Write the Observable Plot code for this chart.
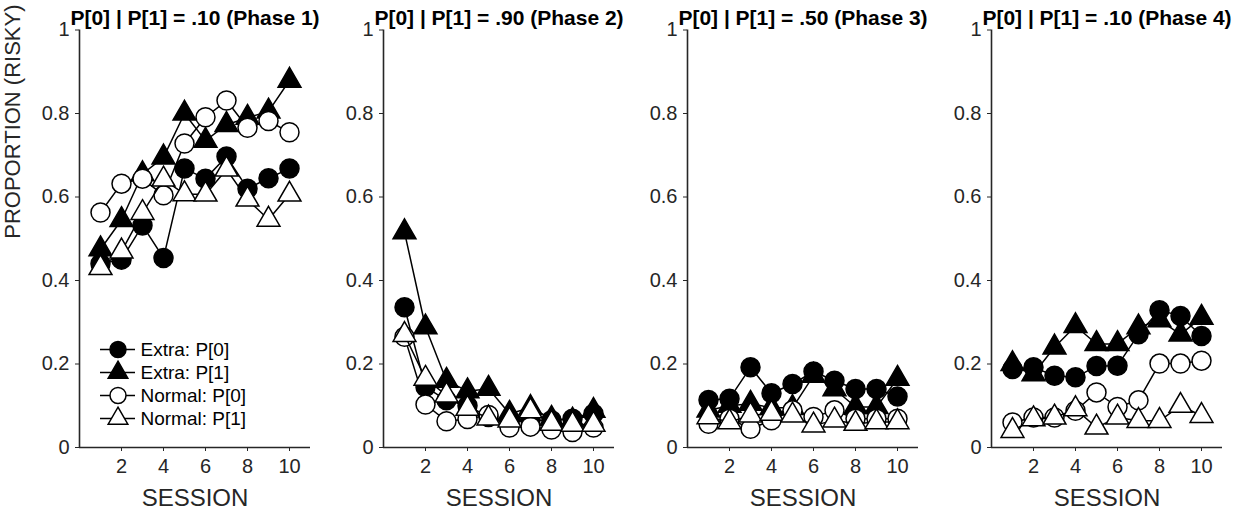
<!DOCTYPE html>
<html>
<head>
<meta charset="utf-8">
<script src="https://cdn.jsdelivr.net/npm/d3@7"></script>
<script src="https://cdn.jsdelivr.net/npm/@observablehq/plot@0.6"></script>
<style>
  body { margin: 0; background: #fff; }
  #chart { position: relative; width: 1249px; height: 511px; font-family: "Liberation Sans", Arial, sans-serif; }
  #chart svg { position: absolute; top: 0; }
</style>
</head>
<body>
<div id="chart"></div>
<script>
// Sessions and panel titles
const sessions = [1, 2, 3, 4, 5, 6, 7, 8, 9, 10];
const phaseTitles = [
  "P[0] | P[1] = .10 (Phase 1)",
  "P[0] | P[1] = .90 (Phase 2)",
  "P[0] | P[1] = .50 (Phase 3)",
  "P[0] | P[1] = .10 (Phase 4)"
];
const seriesNames = ["Extra: P[0]", "Extra: P[1]", "Normal: P[0]", "Normal: P[1]"];

// Proportion of risky choices, one row per phase
const extraP0 = [
  [0.440, 0.450, 0.532, 0.454, 0.668, 0.644, 0.697, 0.620, 0.645, 0.668],
  [0.336, 0.145, 0.113, 0.100, 0.073, 0.060, 0.065, 0.065, 0.069, 0.081],
  [0.114, 0.117, 0.192, 0.130, 0.152, 0.182, 0.160, 0.140, 0.140, 0.122],
  [0.188, 0.192, 0.172, 0.168, 0.195, 0.196, 0.271, 0.329, 0.315, 0.267]
];
const extraP1 = [
  [0.475, 0.545, 0.655, 0.695, 0.800, 0.735, 0.773, 0.790, 0.805, 0.879],
  [0.516, 0.288, 0.160, 0.135, 0.141, 0.081, 0.095, 0.069, 0.065, 0.088],
  [0.089, 0.100, 0.105, 0.095, 0.095, 0.172, 0.140, 0.097, 0.097, 0.165],
  [0.200, 0.176, 0.240, 0.291, 0.248, 0.248, 0.288, 0.305, 0.271, 0.311]
];
const normalP0 = [
  [0.563, 0.632, 0.644, 0.604, 0.728, 0.791, 0.831, 0.766, 0.782, 0.755],
  [0.265, 0.103, 0.063, 0.068, 0.078, 0.048, 0.050, 0.043, 0.037, 0.048],
  [0.057, 0.069, 0.045, 0.065, 0.089, 0.073, 0.089, 0.069, 0.069, 0.069],
  [0.060, 0.072, 0.072, 0.088, 0.132, 0.097, 0.113, 0.201, 0.201, 0.208]
];
const normalP1 = [
  [0.430, 0.470, 0.562, 0.642, 0.607, 0.606, 0.666, 0.594, 0.546, 0.606],
  [0.270, 0.165, 0.125, 0.093, 0.070, 0.065, 0.087, 0.057, 0.055, 0.055],
  [0.073, 0.061, 0.077, 0.081, 0.077, 0.053, 0.065, 0.057, 0.061, 0.061],
  [0.040, 0.068, 0.072, 0.092, 0.048, 0.072, 0.064, 0.064, 0.100, 0.076]
];

const yTicks = [0, 0.2, 0.4, 0.6, 0.8, 1];
const xTicks = [2, 4, 6, 8, 10];
const yLabel = "PROPORTION (RISKY)";
const xLabel = "SESSION";

// Marker style per series (drawn in this order)
const seriesValues = [extraP0, extraP1, normalP0, normalP1];
const seriesStyle = [
  { symbol: "circle", fill: "black", r: 9.5 },
  { symbol: "triangle", fill: "black", r: 8.5 },
  { symbol: "circle", fill: "white", r: 9.5 },
  { symbol: "triangle", fill: "white", r: 8.5 }
];

const FONT = "'Liberation Sans', Arial, sans-serif";
const AXIS = "#262626";
const chart = document.getElementById("chart");
const frameW = 231;

phaseTitles.forEach((title, p) => {
  const frameLeft = 79 + p * 304;
  const svgLeft = p === 0 ? 0 : frameLeft - 62;
  const mL = frameLeft - svgLeft;
  const mR = 14;

  const marks = [
    Plot.ruleX([0], { stroke: AXIS, strokeWidth: 1.6 }),
    Plot.ruleY([0], { stroke: AXIS, strokeWidth: 1.6 }),
    Plot.axisY({
      ticks: yTicks,
      tickFormat: d => (d === 0 || d === 1 ? String(d) : d.toFixed(1)),
      tickSize: 4, tickPadding: 6, fontSize: 20,
      stroke: AXIS, fill: AXIS, label: null
    }),
    Plot.axisX({
      ticks: xTicks, tickSize: 4, tickPadding: 7, fontSize: 20,
      stroke: AXIS, fill: AXIS, label: null
    })
  ];

  seriesValues.forEach((vals, k) => {
    const rows = sessions.map((s, j) => ({ session: s, value: vals[p][j] }));
    const st = seriesStyle[k];
    marks.push(
      Plot.line(rows, { x: "session", y: "value", stroke: "black", strokeWidth: 1.5 }),
      Plot.dot(rows, {
        x: "session", y: "value", symbol: st.symbol, r: st.r,
        fill: st.fill, stroke: "black", strokeWidth: 1.5
      })
    );
  });

  marks.push(
    Plot.text([title], {
      text: d => d, frameAnchor: "top", lineAnchor: "bottom", dy: -5,
      fontSize: 21, fontWeight: "bold", fill: "black"
    }),
    Plot.text([xLabel], {
      text: d => d, frameAnchor: "bottom", lineAnchor: "bottom", dy: 58,
      fontSize: 24, fill: AXIS
    })
  );
  if (p === 0) {
    marks.push(Plot.text([yLabel], {
      text: d => d, frameAnchor: "left", lineAnchor: "bottom", rotate: -90,
      dx: -59.5, fontSize: 22, fill: AXIS
    }));
  }

  const svg = Plot.plot({
    width: mL + frameW + mR, height: 511,
    marginLeft: mL, marginRight: mR, marginTop: 29.5, marginBottom: 64,
    x: { domain: [0, 11] },
    y: { domain: [0, 1] },
    style: { background: "transparent", overflow: "visible", fontFamily: FONT },
    marks
  });
  svg.style.left = svgLeft + "px";
  chart.appendChild(svg);
});

// Legend inside the first panel
const legendRows = seriesNames.map((name, k) => ({ name, ...seriesStyle[k] }));
const legend = Plot.plot({
  width: 170, height: 96,
  marginLeft: 10, marginRight: 125, marginTop: 12, marginBottom: 13,
  x: { domain: [0, 1], axis: null },
  y: { type: "point", domain: seriesNames, padding: 0, axis: null },
  style: { background: "transparent", overflow: "visible", fontFamily: FONT },
  marks: [
    Plot.ruleY(legendRows, { y: "name", x1: 0, x2: 1, stroke: "black", strokeWidth: 1.5 }),
    Plot.dot(legendRows.filter(d => d.symbol === "circle"), {
      x: 0.5, y: "name", symbol: "circle", r: 8,
      fill: d => d.fill, stroke: "black", strokeWidth: 1.5
    }),
    Plot.dot(legendRows.filter(d => d.symbol === "triangle"), {
      x: 0.5, y: "name", symbol: "triangle", r: 7.3,
      fill: d => d.fill, stroke: "black", strokeWidth: 1.5
    }),
    Plot.text(legendRows, {
      x: 1, y: "name", text: "name", textAnchor: "start", dx: 5,
      fontSize: 19, fill: "black"
    })
  ]
});
legend.style.left = "90px";
legend.style.top = "336px";
chart.appendChild(legend);
</script>
</body>
</html>
